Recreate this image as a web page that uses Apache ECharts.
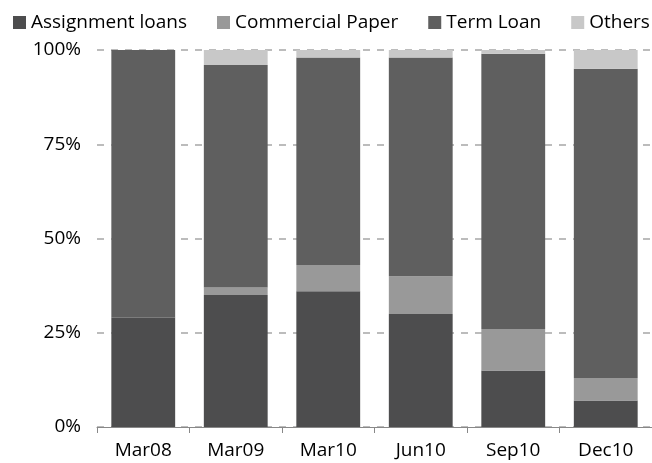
<!DOCTYPE html>
<html>
<head>
<meta charset="utf-8">
<script src="https://cdn.jsdelivr.net/npm/echarts@6/dist/echarts.min.js"></script>
<style>
  html, body { margin: 0; padding: 0; background: #fff; }
  #chart { width: 652px; height: 463px; }
</style>
</head>
<body>
<div id="chart"></div>
<script>
// Funding mix by quarter, share of total (%)
const categories = ['Mar08', 'Mar09', 'Mar10', 'Jun10', 'Sep10', 'Dec10'];
const assignmentLoans = [29, 35, 36, 30, 15, 7];
const commercialPaper = [0, 2, 7, 10, 11, 6];
const termLoan = [71, 59, 55, 58, 73, 82];
const others = [0, 4, 2, 2, 1, 5];
const yTicks = [0, 25, 50, 75, 100];

const FONT = 'Open Sans';
const FONT_SIZE = 19;

function stackSeries(name, data, color) {
  return {
    name: name,
    type: 'bar',
    stack: 'total',
    data: data,
    barCategoryGap: '31%',
    itemStyle: { color: color },
    z: 3
  };
}

const chart = echarts.init(document.getElementById('chart'), null, { renderer: 'canvas' });
chart.setOption({
  animation: false,
  backgroundColor: '#ffffff',
  textStyle: { fontFamily: FONT },
  legend: {
    left: 13,
    top: 13,
    width: 700,
    padding: 0,
    icon: 'rect',
    itemWidth: 13,
    itemHeight: 13,
    itemGap: 30,
    textStyle: { fontFamily: FONT, fontSize: FONT_SIZE, color: '#000' },
    data: ['Assignment loans', 'Commercial Paper', 'Term Loan', 'Others']
  },
  grid: { left: 97, right: -3, top: 50, bottom: 36, containLabel: false },
  xAxis: {
    type: 'category',
    data: categories,
    axisLine: { lineStyle: { color: '#888888', width: 1 } },
    axisTick: { show: true, alignWithLabel: false, length: 6, lineStyle: { color: '#888888' } },
    axisLabel: { fontFamily: FONT, fontSize: FONT_SIZE, color: '#000', margin: 14 }
  },
  yAxis: {
    type: 'value',
    min: yTicks[0],
    max: yTicks[yTicks.length - 1],
    interval: 25,
    axisLine: { show: false },
    axisTick: { show: false },
    axisLabel: { fontFamily: FONT, fontSize: FONT_SIZE, color: '#000', margin: 16, formatter: '{value}%' },
    splitLine: { show: true, lineStyle: { color: '#a6a6a6', type: [7, 7], width: 1.5 } }
  },
  series: [
    stackSeries('Assignment loans', assignmentLoans, '#4d4d4e'),
    stackSeries('Commercial Paper', commercialPaper, '#999999'),
    stackSeries('Term Loan', termLoan, '#5f5f5f'),
    stackSeries('Others', others, '#c8c8c8')
  ]
});
</script>
</body>
</html>
